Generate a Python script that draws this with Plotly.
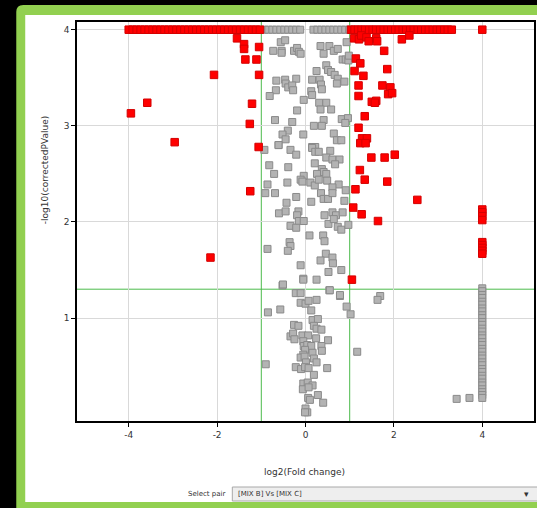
import plotly.graph_objects as go

# ---------------- data (log2 fold change, -log10 corrected p) ----------------
# significant (red) points
red_row_left_x = [-4.00, -3.91, -3.82, -3.73, -3.64, -3.55, -3.46, -3.37, -3.28, -3.19,
                  -3.10, -3.01, -2.92, -2.83, -2.74, -2.65, -2.56, -2.47, -2.38, -2.29,
                  -2.20, -2.11, -2.02, -1.93, -1.84, -1.75, -1.66, -1.57, -1.48, -1.39,
                  -1.30, -1.21, -1.12, -1.03]
red_row_right_x = [1.03, 1.11, 1.19, 1.27, 1.35, 1.44, 1.52, 1.60, 1.69, 1.77, 1.86, 1.94,
                   2.03, 2.11, 2.20, 2.28, 2.37, 2.45, 2.54, 2.62, 2.71, 2.79, 2.88, 2.97,
                   3.05, 3.14, 3.22, 3.31, 4.00]
red_scatter_x = [-1.55, -1.39, -1.39, -1.05, -1.36, -1.11, -2.07, -1.05, -3.58, -3.95,
                 -1.21, -1.26, -2.96, -1.06, -1.25, -2.15,
                 1.10, 1.21, 1.26, 1.38, 1.43, 1.60, 1.62, 2.18, 2.35, 1.78, 1.14, 1.24,
                 1.85, 1.11, 1.31, 1.20, 1.74, 1.92, 1.87, 1.96, 1.20, 1.50, 1.60, 1.57,
                 1.34, 1.20, 1.28, 1.39, 1.24, 1.36, 2.02, 1.49, 1.79, 1.23, 1.34, 1.85,
                 1.13, 2.53, 1.08, 1.27, 1.64, 1.05,
                 4.00, 4.00, 4.00, 4.00, 4.00, 4.00, 4.00, 4.00, 4.00]
red_scatter_y = [3.91, 3.85, 3.80, 3.82, 3.69, 3.69, 3.53, 3.53, 3.24, 3.13,
                 3.23, 3.02, 2.83, 2.78, 2.32, 1.63,
                 3.91, 3.90, 3.94, 3.92, 3.88, 3.91, 3.88, 3.90, 3.94, 3.78, 3.70, 3.65,
                 3.59, 3.57, 3.52, 3.42, 3.42, 3.40, 3.33, 3.34, 3.31, 3.25, 3.26, 3.24,
                 3.10, 2.98, 2.87, 2.87, 2.82, 2.82, 2.70, 2.67, 2.67, 2.54, 2.44, 2.42,
                 2.34, 2.23, 2.15, 2.08, 2.01, 1.40,
                 2.13, 2.10, 2.06, 2.02, 1.79, 1.76, 1.73, 1.70, 1.67]

# non-significant (grey) points
grey_row_x = [-0.93, -0.84, -0.75, -0.66, -0.57, -0.48, -0.39, -0.30, -0.21, -0.12,
              0.18, 0.27, 0.36, 0.45, 0.54, 0.63, 0.72, 0.81, 0.90, 0.99]
grey_col_y = [1.31, 1.28, 1.24, 1.21, 1.17, 1.14, 1.10, 1.07, 1.03, 1.00, 0.96, 0.93,
              0.89, 0.86, 0.82, 0.79, 0.75, 0.72, 0.68, 0.65, 0.61, 0.58, 0.54, 0.51,
              0.47, 0.44, 0.40, 0.37, 0.33, 0.30, 0.26, 0.23, 0.20, 0.17]
grey_scatter_x = [-0.56, -0.46, -0.73, -0.54, -0.54, -0.26, -0.19, -0.15, -0.11, 0.34,
                  0.54, 0.41, 0.64, 0.73, 0.93, 0.84, 0.91, 0.97, 0.98, 0.47, 0.51, 0.25,
                  0.58, 0.66, 0.73, 0.88, 0.71, -0.66, -0.46, -0.45, -0.21, -0.39, -0.30,
                  -0.28, -0.67, -0.81, 0.15, 0.32, 0.35, 0.37, 0.13, 0.15, -0.04, 0.31,
                  0.47, 0.34, 0.58, -0.19, -0.69, -0.30, 0.41, 0.37, 0.19, 0.82, 0.96,
                  0.90, -0.40, -0.52, -0.45, -0.05, -0.61, 0.64, 0.71, 0.81, 0.15, 0.22,
                  -0.93, -0.61, -0.34, -0.21, 0.15, 0.22, 0.30, 0.56, 0.47, 0.61, 0.77,
                  0.67, 0.21, -0.82, -0.39, -0.71, 0.37, 0.41, 0.47, 0.26, -0.04, -0.11,
                  -0.07, 0.11, 0.21, 0.30, 0.49, -0.86, -0.41, 0.75, 0.61, 0.91, -0.91,
                  -0.69, -0.21, 0.35, 0.41, 0.51, 0.61, 0.13, 0.88, -0.43, -0.60, -0.45,
                  -0.16, -0.19, -0.15, -0.04, 0.43, 0.61, 0.69, 0.84, 0.52, 0.64, 0.73,
                  0.81, 0.97, -0.34, -0.21, 0.09, 0.40, 0.43, -0.36, -0.34, -0.40, -0.86,
                  0.46, 0.61, 0.34, 0.62, 0.81, -0.11, 0.52, -0.05,
                  -0.05, 0.25, -0.52, 0.54, 0.78, -0.22, -0.11, -0.11, 0.00, 0.07, 0.25,
                  0.13, 0.93, 1.02, -0.85, -0.57, -0.26, -0.16, 0.16, 0.28, 0.19, 0.25,
                  0.36, -0.34, -0.28, -0.25, -0.07, 0.06, -0.05, -0.04, 0.04, 0.13, 0.24,
                  0.51, 0.36, 0.37, -0.01, -0.05, -0.11, -0.02, 0.16, 0.19, 0.25, 0.01,
                  -0.90, -0.22, -0.10, -0.01, 0.07, 0.49, 0.19, -0.05, 0.05, 0.16, -0.06,
                  0.07, 0.06, 0.10, 0.28, 0.40, 0.00, 0.04, -0.01,
                  0.55, 0.78, 1.69, 1.63, 1.17, -0.51, 3.42, 3.71]
grey_scatter_y = [3.87, 3.89, 3.78, 3.78, 3.76, 3.78, 3.81, 3.77, 3.75, 3.83,
                  3.83, 3.75, 3.78, 3.80, 3.87, 3.69, 3.69, 3.68, 3.73, 3.63, 3.58, 3.57,
                  3.56, 3.53, 3.49, 3.46, 3.44, 3.47, 3.48, 3.44, 3.49, 3.40, 3.42,
                  3.37, 3.37, 3.31, 3.48, 3.48, 3.43, 3.38, 3.36, 3.32, 3.27, 3.24,
                  3.24, 3.17, 3.17, 3.16, 3.06, 3.04, 3.06, 3.00, 3.00, 3.07, 3.08,
                  3.03, 2.95, 2.91, 2.86, 2.91, 2.80, 2.92, 2.85, 2.85, 2.78, 2.78,
                  2.75, 2.80, 2.75, 2.70, 2.77, 2.73, 2.73, 2.74, 2.67, 2.65, 2.65,
                  2.60, 2.61, 2.59, 2.57, 2.50, 2.55, 2.52, 2.50, 2.50, 2.48, 2.44,
                  2.42, 2.41, 2.38, 2.44, 2.43, 2.39, 2.41, 2.39, 2.36, 2.33, 2.30,
                  2.30, 2.26, 2.30, 2.24, 2.24, 2.30, 2.21, 2.22, 2.20, 2.09, 2.11,
                  2.11, 2.07, 2.01, 2.01, 2.07, 2.10, 2.07, 2.10, 1.98, 2.03, 1.95,
                  1.92, 1.97, 1.96, 1.94, 1.86, 1.86, 1.80, 1.79, 1.75, 1.70, 1.72,
                  1.67, 1.63, 1.60, 1.57, 1.50, 1.55, 1.48, 1.41,
                  1.40, 1.40, 1.34, 1.29, 1.23, 1.26, 1.26, 1.16, 1.15, 1.18, 1.19,
                  1.08, 1.12, 1.04, 1.06, 1.09, 0.93, 0.92, 0.98, 0.99, 0.92, 0.89,
                  0.88, 0.81, 0.84, 0.78, 0.82, 0.82, 0.76, 0.71, 0.72, 0.71, 0.79,
                  0.77, 0.71, 0.66, 0.67, 0.62, 0.59, 0.60, 0.64, 0.58, 0.54, 0.54,
                  0.52, 0.49, 0.47, 0.49, 0.48, 0.48, 0.41, 0.32, 0.33, 0.30, 0.26,
                  0.28, 0.17, 0.15, 0.20, 0.12, 0.06, 0.02, 0.02,
                  1.29, 1.24, 1.23, 1.19, 0.65, 1.35, 0.16, 0.17]

fc_thresholds = [-1.0, 1.0]
p_threshold = 1.301
x_ticks = [-4, -2, 0, 2, 4]
y_ticks = [1, 2, 3, 4]

# ---------------- assemble ----------------
grey_x = grey_row_x + [4.0] * len(grey_col_y) + grey_scatter_x
grey_y = [4.0] * len(grey_row_x) + grey_col_y + grey_scatter_y
red_x = red_row_left_x + red_row_right_x + red_scatter_x
red_y = [4.0] * (len(red_row_left_x) + len(red_row_right_x)) + red_scatter_y

W, H = 537, 508
L, R, T, B = 77, 1, 22, 87
PW, PH = W - L - R, H - T - B


def fx(px):
    return (px - L) / PW


def fy(py):
    return (H - B - py) / PH


FONT = "DejaVu Sans"
fig = go.Figure()
fig.add_trace(go.Scatter(x=grey_x, y=grey_y, mode="markers", hoverinfo="skip",
                         marker=dict(symbol="square", size=7, color="#b3b3b3",
                                     line=dict(color="#8a8a8a", width=1))))
fig.add_trace(go.Scatter(x=red_x, y=red_y, mode="markers", hoverinfo="skip",
                         marker=dict(symbol="square", size=7.5, color="#ff0000",
                                     line=dict(color="#d40000", width=1))))

shapes = []
# window chrome: green frame with rounded corner, white panel
r = 7
gx0, gy0 = fx(16), fy(5)
gx1, gy1 = fx(560), fy(530)
shapes.append(dict(type="path", xref="paper", yref="paper", layer="below",
                   path=(f"M {gx0},{gy1} L {gx0},{fy(5 + r)} Q {gx0},{gy0} {fx(16 + r)},{gy0} "
                         f"L {gx1},{gy0} L {gx1},{gy1} Z"),
                   fillcolor="#92d050", line=dict(width=0)))
shapes.append(dict(type="rect", xref="paper", yref="paper", layer="below",
                   x0=fx(25), x1=fx(560), y0=fy(15), y1=fy(502),
                   fillcolor="white", line=dict(width=0)))
# threshold lines
for v in fc_thresholds:
    shapes.append(dict(type="line", xref="x", yref="paper", x0=v, x1=v, y0=0, y1=1,
                       line=dict(color="#4cbb4c", width=1), layer="below"))
shapes.append(dict(type="line", xref="paper", yref="y", x0=0, x1=1, y0=p_threshold,
                   y1=p_threshold, line=dict(color="#4cbb4c", width=1), layer="below"))
# dropdown box
shapes.append(dict(type="rect", xref="paper", yref="paper", layer="above",
                   x0=fx(233), x1=fx(545), y0=fy(487), y1=fy(501),
                   fillcolor="#eeeeee", line=dict(color="#a8a8a8", width=1)))

annotations = [
    dict(text="log2(Fold change)", xref="paper", yref="paper", x=fx(305), y=fy(472),
         yanchor="middle", showarrow=False, font=dict(family=FONT, size=9, color="#333333")),
    dict(text="-log10(correctedPValue)", xref="paper", yref="paper", x=fx(38), y=fy(170),
         showarrow=False, textangle=-90, font=dict(family=FONT, size=9, color="#333333")),
    dict(text="Select pair", xref="paper", yref="paper", x=fx(228), y=fy(494.5),
         xanchor="right", yanchor="middle", showarrow=False,
         font=dict(family=FONT, size=7, color="#333333")),
    dict(text="[MIX B] Vs [MIX C]", xref="paper", yref="paper", x=fx(237), y=fy(494.5),
         xanchor="left", yanchor="middle", showarrow=False,
         font=dict(family=FONT, size=7, color="#333333")),
    dict(text="▾", xref="paper", yref="paper", x=fx(533), y=fy(494.5), yanchor="middle",
         showarrow=False, font=dict(family=FONT, size=9, color="#333333")),
]

fig.update_layout(
    width=W, height=H, margin=dict(l=L, r=R, t=T, b=B, pad=0),
    paper_bgcolor="black", plot_bgcolor="white", showlegend=False,
    shapes=shapes, annotations=annotations,
    font=dict(family=FONT, size=9, color="#333333"),
)
fig.update_xaxes(range=[-5.17, 5.17], tickvals=x_ticks, ticktext=["-4", "-2", "0", "2", "4"],
                 showgrid=True, gridcolor="#d9d9d9", gridwidth=1, zeroline=False,
                 showline=True, linecolor="black", linewidth=1.5, mirror=True,
                 ticks="outside", ticklen=4, tickcolor="black",
                 tickfont=dict(family=FONT, size=9, color="#333333"))
fig.update_yaxes(range=[-0.07, 4.08], tickvals=y_ticks,
                 showgrid=True, gridcolor="#d9d9d9", gridwidth=1, zeroline=False,
                 showline=True, linecolor="black", linewidth=1.5, mirror=True,
                 ticks="outside", ticklen=4, tickcolor="black",
                 tickfont=dict(family=FONT, size=9, color="#333333"))

fig.write_html("out.html", config={"displayModeBar": False},
               post_script="document.body.style.margin='0';document.body.style.overflow='hidden';")
